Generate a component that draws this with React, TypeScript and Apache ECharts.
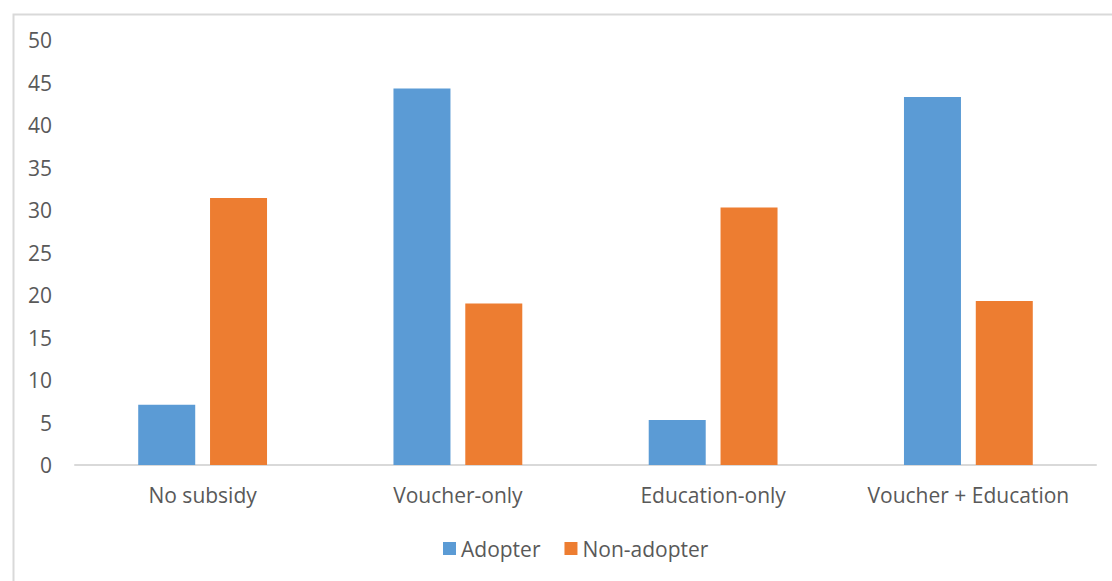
import React, { useEffect, useRef } from "react";
import * as echarts from "echarts";

const categories = ["No subsidy", "Voucher-only", "Education-only", "Voucher + Education"];
const adopter = [7.1, 44.3, 5.3, 43.3];
const nonAdopter = [31.4, 19.0, 30.3, 19.3];
const seriesNames = ["Adopter", "Non-adopter"];

const FONT = "'Open Sans', 'Noto Sans', sans-serif";
const TEXT = "#595959";
const FS = 21;

export default function App() {
  const ref = useRef<HTMLDivElement>(null);

  useEffect(() => {
    if (!ref.current) return;
    const chart = echarts.init(ref.current, null, { renderer: "svg" });
    chart.setOption({
      animation: false,
      backgroundColor: "#ffffff",
      textStyle: { fontFamily: FONT },
      graphic: [
        {
          type: "rect",
          left: 11,
          top: 12,
          shape: { x: 0, y: 0, width: 1110, height: 580 },
          style: { fill: "none", stroke: "#d9d9d9", lineWidth: 2 },
          silent: true,
        },
      ],
      grid: { left: 75, right: 16, top: 40, bottom: 116, containLabel: false },
      legend: {
        data: seriesNames,
        left: 438,
        top: 533,
        itemWidth: 13,
        itemHeight: 13,
        itemGap: 24,
        icon: "rect",
        textStyle: { color: TEXT, fontSize: FS, fontFamily: FONT },
      },
      xAxis: {
        type: "category",
        data: categories,
        axisLine: { lineStyle: { color: "#d9d9d9", width: 2 } },
        axisTick: { show: false },
        axisLabel: {
          color: TEXT,
          fontSize: FS,
          fontFamily: FONT,
          margin: 19,
          interval: 0,
          hideOverlap: false,
        },
      },
      yAxis: {
        type: "value",
        min: 0,
        max: 50,
        interval: 5,
        splitLine: { show: false },
        axisLine: { show: false },
        axisTick: { show: false },
        axisLabel: { color: TEXT, fontSize: FS, fontFamily: FONT, margin: 23 },
      },
      series: [
        {
          name: seriesNames[0],
          type: "bar",
          data: adopter,
          barWidth: 57,
          barGap: "26%",
          itemStyle: { color: "#5b9bd5" },
        },
        {
          name: seriesNames[1],
          type: "bar",
          data: nonAdopter,
          barWidth: 57,
          barGap: "26%",
          itemStyle: { color: "#ed7d31" },
        },
      ],
    });
    return () => chart.dispose();
  }, []);

  return (
    <div
      ref={ref}
      style={{ position: "absolute", left: 0, top: 0, width: 1112, height: 581 }}
    />
  );
}
